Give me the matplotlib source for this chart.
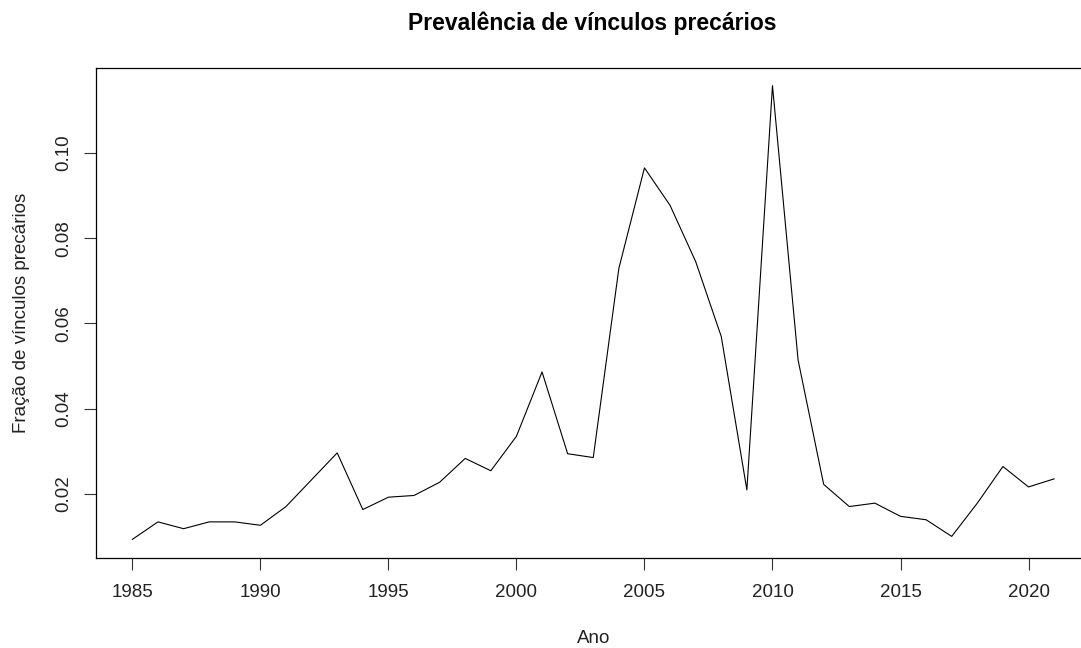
import matplotlib
matplotlib.use("Agg")
import matplotlib.pyplot as plt
import numpy as np

plt.rcParams['font.family'] = ['Liberation Sans', 'DejaVu Sans']

# dados
anos = np.arange(1985, 2022)
fracao = [0.0093, 0.0134, 0.0118, 0.0134, 0.0134, 0.0126, 0.0170, 0.0233,
          0.0296, 0.0163, 0.0192, 0.0196, 0.0227, 0.0283, 0.0254, 0.0335,
          0.0486, 0.0294, 0.0285, 0.0729, 0.0965, 0.0877, 0.0745, 0.0569,
          0.0209, 0.1158, 0.0514, 0.0222, 0.0170, 0.0178, 0.0147, 0.0139,
          0.0100, 0.0178, 0.0264, 0.0216, 0.0235]
xticks = [1985, 1990, 1995, 2000, 2005, 2010, 2015, 2020]
yticks = [0.02, 0.04, 0.06, 0.08, 0.10]

fig = plt.figure(figsize=(10.81, 6.48), dpi=100)
ax = fig.add_axes([95.5 / 1081, (648 - 557.5) / 648, (1091 - 95.5) / 1081, 490 / 648])

ax.plot(anos, fracao, color='black', linewidth=0.8)
ax.margins(x=0.04, y=0.04)

ax.set_xticks(xticks)
ax.set_yticks(yticks)
ax.set_yticklabels(['0.02', '0.04', '0.06', '0.08', '0.10'])
ax.tick_params(axis='both', direction='out', length=8.4, width=0.8,
               labelsize=13.5, color='#333333', labelcolor='#222222')
ax.tick_params(axis='x', pad=11)
ax.tick_params(axis='y', pad=8.5, labelrotation=90)
for lab in ax.get_yticklabels():
    lab.set_verticalalignment('center')

for s in ax.spines.values():
    s.set_linewidth(0.9)
    s.set_color('black')

ax.set_xlabel('Ano', fontsize=13.5, labelpad=20.5, color='#222222')
ax.set_ylabel('Fração de vínculos precários', fontsize=13.5, labelpad=18, color='#222222')
fig.text(592 / 1081, 1 - 23 / 648, 'Prevalência de vínculos precários',
         fontsize=16.5, fontweight='bold', ha='center', va='center')

fig.savefig('out.png', dpi=100)
